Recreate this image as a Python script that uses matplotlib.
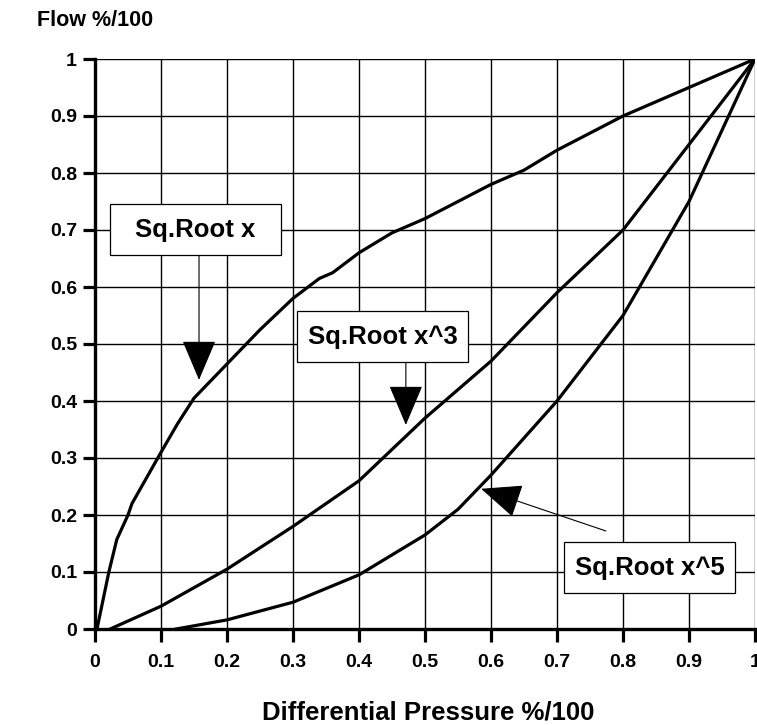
import matplotlib.pyplot as plt
from matplotlib.patches import Rectangle

plt.rcParams['font.family'] = ['Liberation Sans', 'DejaVu Sans']
plt.rcParams['font.weight'] = 'bold'

# curve data
sqrt_x = [0.003, 0.021, 0.033, 0.05, 0.056, 0.1, 0.125, 0.15, 0.2, 0.25, 0.3, 0.34, 0.36, 0.4, 0.45, 0.47, 0.5, 0.6, 0.65, 0.7, 0.8, 0.9, 1.0]
sqrt_y = [0, 0.1, 0.157, 0.2, 0.22, 0.31, 0.36, 0.405, 0.465, 0.525, 0.58, 0.615, 0.625, 0.66, 0.695, 0.705, 0.72, 0.78, 0.805, 0.84, 0.9, 0.95, 1.0]

x3_x = [0.023, 0.1, 0.2, 0.3, 0.4, 0.5, 0.6, 0.7, 0.8, 0.9, 1.0]
x3_y = [0, 0.04, 0.105, 0.18, 0.26, 0.37, 0.47, 0.59, 0.70, 0.85, 1.0]

x5_x = [0.123, 0.2, 0.3, 0.4, 0.5, 0.55, 0.6, 0.7, 0.8, 0.9, 1.0]
x5_y = [0, 0.016, 0.047, 0.095, 0.165, 0.21, 0.27, 0.40, 0.55, 0.75, 1.0]

ticks = [0, 0.1, 0.2, 0.3, 0.4, 0.5, 0.6, 0.7, 0.8, 0.9, 1.0]
tick_labels = ['0', '0.1', '0.2', '0.3', '0.4', '0.5', '0.6', '0.7', '0.8', '0.9', '1']

labels = ['Sq.Root x', 'Sq.Root x^3', 'Sq.Root x^5']

fig = plt.figure(figsize=(7.57, 7.25), dpi=100)
ax = fig.add_axes([95 / 757, 96 / 725, 660 / 757, 570 / 725])

for xs, ys in [(sqrt_x, sqrt_y), (x3_x, x3_y), (x5_x, x5_y)]:
    ax.plot(xs, ys, color='black', lw=2.3, solid_joinstyle='round', zorder=3)

ax.set_xlim(0, 1)
ax.set_ylim(0, 1)
ax.set_xticks(ticks)
ax.set_xticklabels(tick_labels)
ax.set_yticks(ticks)
ax.set_yticklabels(tick_labels)
ax.grid(True, color='black', lw=1.0)
ax.set_axisbelow(True)

for s in ['top', 'right']:
    ax.spines[s].set_visible(False)
for s in ['left', 'bottom']:
    ax.spines[s].set_linewidth(2.4)

ax.tick_params(axis='both', length=9, width=2.3, labelsize=14)
ax.tick_params(axis='x', pad=9)
ax.tick_params(axis='y', pad=4)

# label boxes (data coords) and arrows: (x0, y0), tail, tip
boxes = [(0.0227, 0.656), (0.306, 0.468), (0.711, 0.063)]
tails = [(0.1576, 0.656), (0.471, 0.468), (0.774, 0.172)]
tips = [(0.1576, 0.437), (0.471, 0.358), (0.585, 0.246)]
bw, bh = 0.259, 0.0895

for lab, (bx, by), tail, tip in zip(labels, boxes, tails, tips):
    ax.add_patch(Rectangle((bx, by), bw, bh, facecolor='white', edgecolor='black',
                           lw=0.9, zorder=5))
    ax.text(bx + bw / 2, by + bh / 2, lab, ha='center', va='center',
            fontsize=18.5, fontweight='bold', zorder=6)
    ax.annotate('', xy=tip, xytext=tail,
                arrowprops=dict(arrowstyle='-|>,head_length=2.6,head_width=1.1',
                                color='black', lw=0.8, shrinkA=0, shrinkB=0),
                zorder=4)

fig.text(37 / 757, 1 - 20 / 725, 'Flow %/100', ha='left', va='center', fontsize=15.5, fontweight='bold')
fig.text(428 / 757, 1 - 713 / 725, 'Differential Pressure %/100', ha='center', va='center',
         fontsize=18.5, fontweight='bold')

plt.savefig('out.png', dpi=100)
